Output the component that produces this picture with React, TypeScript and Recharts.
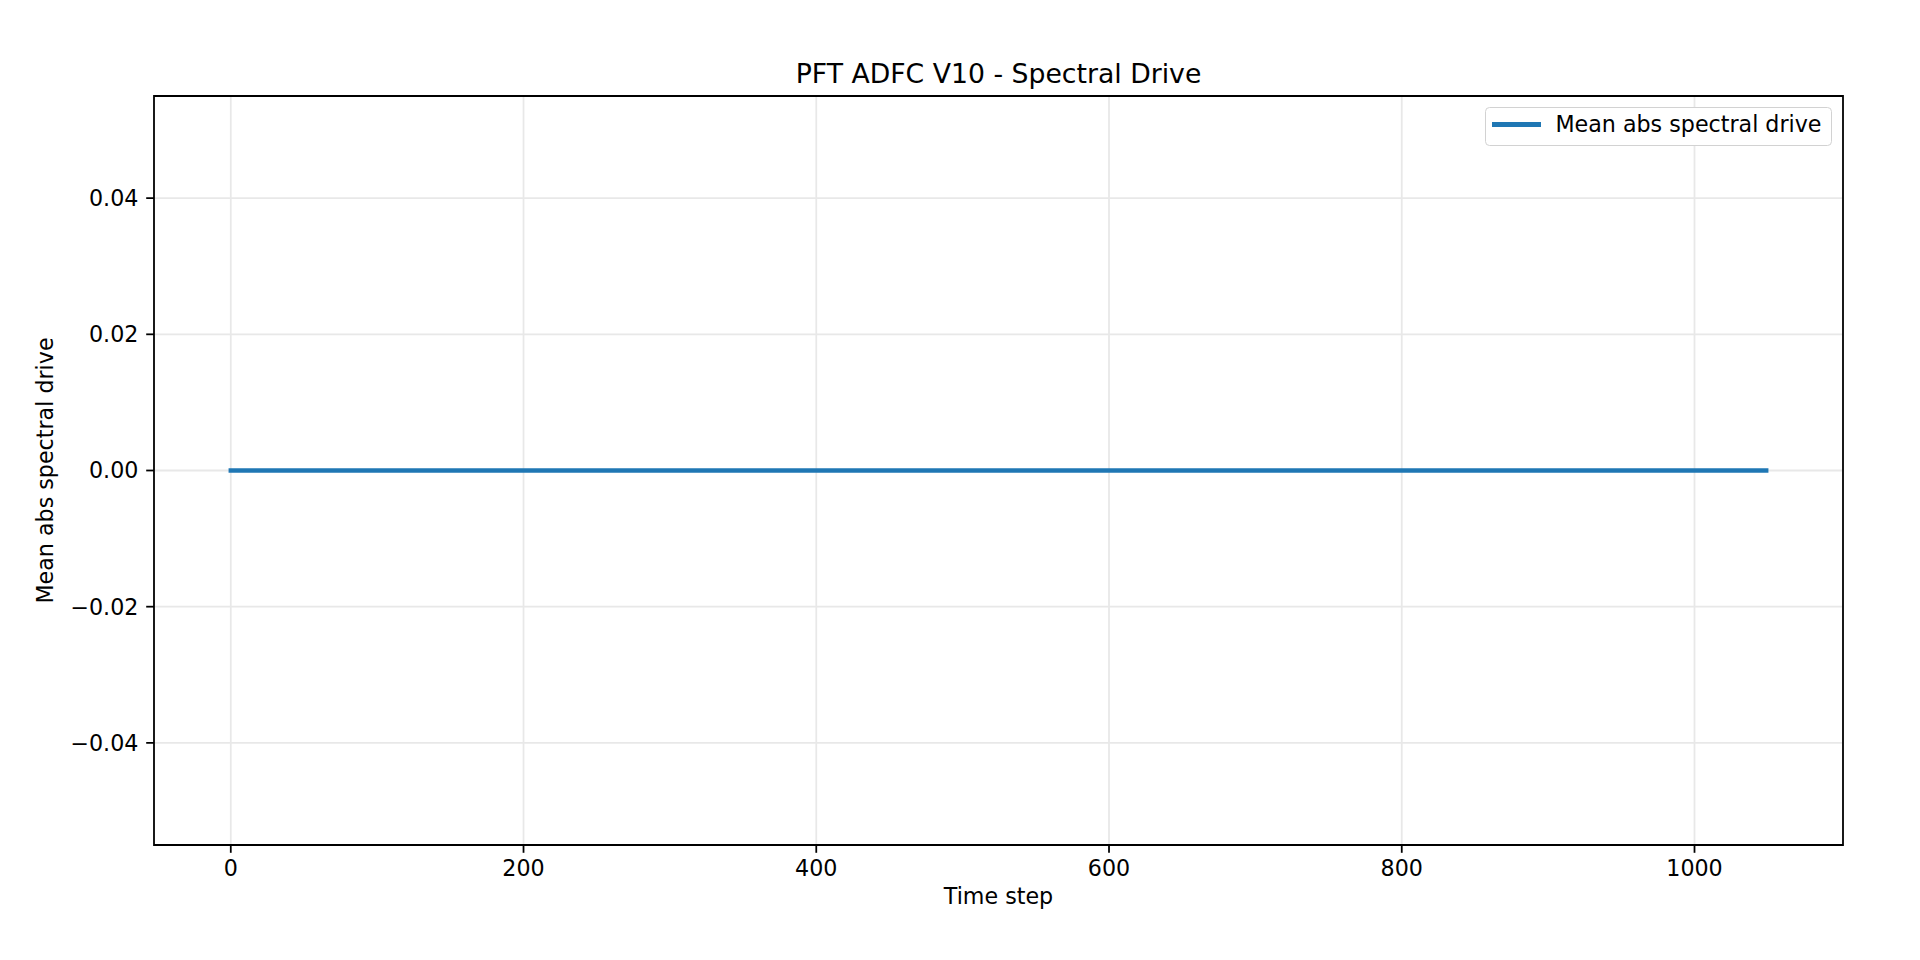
import { LineChart, Line, XAxis, YAxis, CartesianGrid, ReferenceArea, Legend, Label } from "recharts";

// time steps and the mean absolute spectral drive (flat at zero over the whole run)
const steps = [0, 1049];
const drive = [0, 0];

const xTicks = [0, 200, 400, 600, 800, 1000];
const yTicks = [-0.04, -0.02, 0, 0.02, 0.04];
const xDomain: [number, number] = [-52.45, 1101.45];
const yDomain: [number, number] = [-0.055, 0.055];

const title = "PFT ADFC V10 - Spectral Drive";
const xLabel = "Time step";
const yLabel = "Mean abs spectral drive";
const seriesName = "Mean abs spectral drive";

const FONT = "'DejaVu Sans', sans-serif";
const FS = 22.2;
const BLUE = "#1f77b4";

const rows = steps.map((s, i) => ({ step: s, drive: drive[i] }));

const fmtY = (v: number) => v.toFixed(2).replace("-", "\u2212");

function LegendBox() {
  return (
    <div
      style={{
        display: "flex",
        alignItems: "center",
        boxSizing: "border-box",
        height: 39,
        padding: "0 9.2px 0 5.9px",
        border: "1.5px solid #d2d2d2",
        borderRadius: 4.5,
        background: "#fff",
        fontFamily: FONT,
        fontSize: FS,
        color: "#000",
      }}
    >
      <span
        style={{ display: "inline-block", width: 48.6, height: 4.4, background: BLUE, position: "relative", top: -1.7 }}
      />
      <span style={{ marginLeft: 14.5, lineHeight: 1, whiteSpace: "nowrap", position: "relative", top: -2.2 }}>
        {seriesName}
      </span>
    </div>
  );
}

export default function App() {
  const tickStyle = { fontFamily: FONT, fontSize: FS, fill: "#000" };
  return (
    <div style={{ position: "relative", width: 1920, height: 960, background: "#fff" }}>
      <style>{`body{margin:0}`}</style>
      <LineChart width={1920} height={960} data={rows} margin={{ top: 96, right: 77, bottom: 0, left: 0 }}>
        <CartesianGrid stroke="#e8e8e8" strokeWidth={1.78} />
        <XAxis
          dataKey="step"
          type="number"
          domain={xDomain}
          ticks={xTicks}
          interval={0}
          allowDataOverflow
          height={115}
          axisLine={false}
          tickLine={{ stroke: "#000", strokeWidth: 1.78 }}
          tickSize={7.8}
          tickMargin={7.8}
          tick={tickStyle}
        >
          <Label
            content={({ viewBox }: any) => (
              <text
                x={viewBox.x + viewBox.width / 2}
                y={viewBox.y + 59}
                textAnchor="middle"
                fontFamily={FONT}
                fontSize={FS}
                fill="#000"
              >
                {xLabel}
              </text>
            )}
          />
        </XAxis>
        <YAxis
          type="number"
          domain={yDomain}
          ticks={yTicks}
          interval={0}
          allowDataOverflow
          width={154}
          axisLine={false}
          tickLine={{ stroke: "#000", strokeWidth: 1.78 }}
          tickSize={7.8}
          tickMargin={7.8}
          tick={tickStyle}
          tickFormatter={fmtY}
        >
          <Label
            content={({ viewBox }: any) => {
              const cx = viewBox.x + 53.3;
              const cy = viewBox.y + viewBox.height / 2;
              return (
                <text
                  x={cx}
                  y={cy}
                  transform={`rotate(-90, ${cx}, ${cy})`}
                  textAnchor="middle"
                  fontFamily={FONT}
                  fontSize={FS}
                  fill="#000"
                >
                  {yLabel}
                </text>
              );
            }}
          />
        </YAxis>
        <Line
          dataKey="drive"
          name={seriesName}
          stroke={BLUE}
          strokeWidth={4.4}
          strokeLinecap="square"
          dot={false}
          activeDot={false}
          isAnimationActive={false}
        />
        <ReferenceArea
          x1={xDomain[0]}
          x2={xDomain[1]}
          y1={yDomain[0]}
          y2={yDomain[1]}
          fill="none"
          fillOpacity={0}
          stroke="#000"
          strokeWidth={1.78}
          ifOverflow="visible"
        />
        <Legend
          layout="horizontal"
          align="center"
          verticalAlign="middle"
          content={() => <LegendBox />}
          wrapperStyle={{ top: 106.7, right: 88.3, left: "auto", width: "auto", bottom: "auto" }}
        />
      </LineChart>
      <svg width={1920} height={960} style={{ position: "absolute", left: 0, top: 0, pointerEvents: "none" }}>
        <text x={998.5} y={83} textAnchor="middle" fontFamily={FONT} fontSize={26.7} fill="#000">
          {title}
        </text>
      </svg>
    </div>
  );
}
